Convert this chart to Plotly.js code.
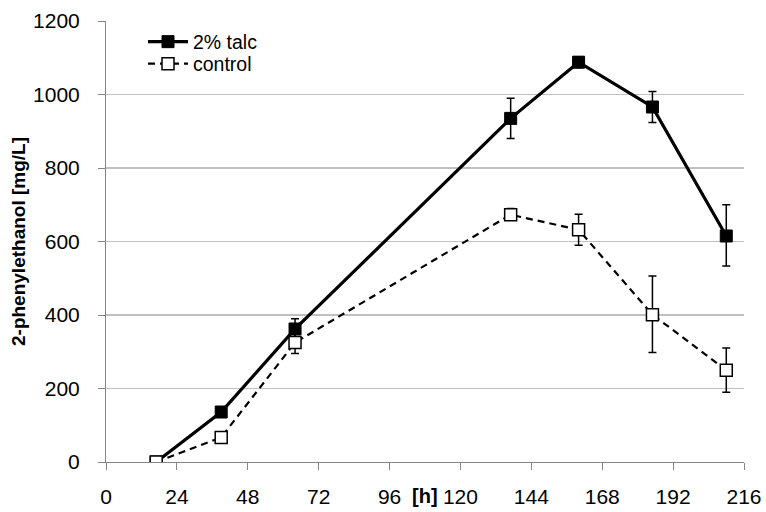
<!DOCTYPE html>
<html>
<head>
<meta charset="utf-8">
<script src="https://cdn.plot.ly/plotly-3.0.1.min.js"></script>
<style>html,body{margin:0;padding:0;background:#fff}#chart{width:766px;height:512px}</style>
</head>
<body>
<div id="chart"></div>
<script>
// Data
var hours = [17, 39, 64, 137, 160, 185, 210];
var talc = [0, 136, 362, 935, 1088, 966, 615];
var talcErrPlus = [0, 8, 28, 55, 15, 42, 85];
var talcErrMinus = [0, 8, 28, 55, 15, 42, 82];
var control = [0, 67, 325, 673, 632, 401, 250];
var controlErrPlus = [0, 10, 28, 17, 42, 105, 60];
var controlErrMinus = [0, 10, 30, 15, 42, 103, 60];
var xTicks = [0, 24, 48, 72, 96, 120, 144, 168, 192, 216];
var yTicks = [0, 200, 400, 600, 800, 1000, 1200];

var font = "Liberation Sans, Arial, sans-serif";

var traces = [
  {
    x: hours, y: talc, name: "2% talc", type: "scatter", mode: "lines+markers", legend: "legend",
    line: {color: "#000", width: 3.2},
    marker: {symbol: "square", size: 12, color: "#000", line: {color: "#000", width: 1}},
    error_y: {type: "data", symmetric: false, array: talcErrPlus, arrayminus: talcErrMinus,
              color: "#000", thickness: 1.5, width: 4}
  },
  {
    x: hours, y: control, name: "control", type: "scatter", mode: "lines+markers", legend: "legend2",
    line: {color: "#000", width: 2.2, dash: "7px,5px"},
    marker: {symbol: "square", size: 12, color: "#fff", line: {color: "#000", width: 1.5}},
    error_y: {type: "data", symmetric: false, array: controlErrPlus, arrayminus: controlErrMinus,
              color: "#000", thickness: 1.5, width: 4}
  }
];

var legendFont = {family: font, size: 19.5, color: "#000"};
var layout = {
  width: 766, height: 512,
  margin: {l: 106, r: 22, t: 21, b: 50, pad: 0},
  paper_bgcolor: "#fff", plot_bgcolor: "#fff",
  font: {family: font, size: 21, color: "#000"},
  showlegend: true,
  legend: {x: 0.058, y: 0.9, xanchor: "left", yanchor: "middle", bgcolor: "rgba(0,0,0,0)",
           font: legendFont, itemwidth: 40},
  legend2: {x: 0.058, y: 0.85, xanchor: "left", yanchor: "middle", bgcolor: "rgba(0,0,0,0)",
           font: legendFont, itemwidth: 40},
  xaxis: {
    range: [0, 216], tickmode: "array", tickvals: xTicks, ticktext: xTicks.map(String),
    showgrid: false, zeroline: false, showline: true, linecolor: "#868686", linewidth: 1,
    ticks: "outside", ticklen: 7, tickcolor: "#868686", ticklabelstandoff: 9,
    tickfont: {family: font, size: 21, color: "#000"}
  },
  yaxis: {
    range: [0, 1200], tickmode: "array", tickvals: yTicks, ticktext: yTicks.map(String),
    showgrid: true, gridcolor: "#c0c0c0", gridwidth: 1.5, zeroline: false,
    showline: true, linecolor: "#868686", linewidth: 1,
    ticks: "outside", ticklen: 7, tickcolor: "#868686", ticklabelstandoff: 14,
    tickfont: {family: font, size: 21, color: "#000"},
    title: {text: "<b>2-phenylethanol [mg/L]</b>", font: {family: font, size: 19, color: "#000"}, standoff: 2}
  },
  annotations: [
    {text: "<b>[h]</b>", xref: "x", yref: "paper", x: 108, y: -0.078, xanchor: "center", yanchor: "middle",
     showarrow: false, font: {family: font, size: 20, color: "#000"}}
  ]
};
// legend vertical positions (paper fractions of plot height 441.5 from y=21)
layout.legend.y = (462.5 - 42) / 441.5;
layout.legend2.y = (462.5 - 64) / 441.5;

Plotly.newPlot("chart", traces, layout, {displayModeBar: false, staticPlot: true});
</script>
</body>
</html>
